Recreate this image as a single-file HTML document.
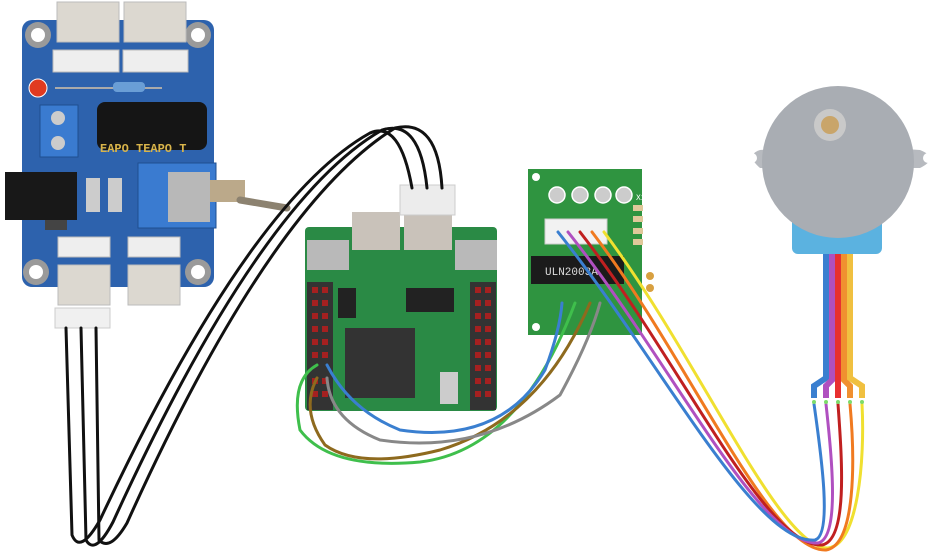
<!DOCTYPE html>
<html><head><meta charset="utf-8"><style>
html,body{margin:0;padding:0;background:#fff;width:936px;height:560px;overflow:hidden}
svg{display:block}
text{font-family:"Liberation Mono",monospace}
</style></head><body>
<svg width="936" height="560" viewBox="0 0 936 560" xmlns="http://www.w3.org/2000/svg">
<!-- ===== Blue power board ===== -->
<rect x="22" y="20" width="192" height="267" rx="10" fill="#2d62ad"/>
<g fill="#9a9a9a"><circle cx="38" cy="35" r="13"/><circle cx="198" cy="35" r="13"/><circle cx="36" cy="272" r="13"/><circle cx="198" cy="272" r="13"/></g>
<g fill="#fff"><circle cx="38" cy="35" r="7"/><circle cx="198" cy="35" r="7"/><circle cx="36" cy="272" r="7"/><circle cx="198" cy="272" r="7"/></g>
<rect x="57" y="2" width="62" height="40" fill="#dcd8d0" stroke="#bbb"/>
<rect x="124" y="2" width="62" height="40" fill="#dcd8d0" stroke="#bbb"/>
<rect x="53" y="50" width="66" height="22" fill="#eee" stroke="#bbb"/>
<rect x="123" y="50" width="65" height="22" fill="#eee" stroke="#bbb"/>
<circle cx="38" cy="88" r="9" fill="#e03a20" stroke="#fff"/>
<line x1="55" y1="88" x2="162" y2="88" stroke="#aaa" stroke-width="2"/>
<rect x="113" y="82" width="32" height="10" rx="4" fill="#6a9ed6"/>
<rect x="40" y="105" width="38" height="52" fill="#3a7bd0" stroke="#1f4f90"/>
<circle cx="58" cy="118" r="7" fill="#ccc"/><circle cx="58" cy="143" r="7" fill="#ccc"/>
<rect x="97" y="102" width="110" height="48" rx="8" fill="#151515"/>
<text x="100" y="152" font-size="12" fill="#d9b44a" font-weight="bold">EAPO  TEAPO  T</text>
<rect x="5" y="172" width="72" height="48" fill="#181818"/>
<rect x="45" y="220" width="22" height="10" fill="#444"/>
<rect x="86" y="178" width="14" height="34" fill="#ccc"/><rect x="108" y="178" width="14" height="34" fill="#ccc"/>
<rect x="138" y="163" width="78" height="65" fill="#3a7bd0" stroke="#1f4f90"/>
<rect x="168" y="172" width="42" height="50" fill="#b8b8b8"/>
<rect x="210" y="180" width="35" height="22" fill="#bba98a"/>
<line x1="240" y1="200" x2="287" y2="208" stroke="#8c8270" stroke-width="7" stroke-linecap="round"/>
<rect x="58" y="237" width="52" height="20" fill="#eee" stroke="#bbb"/>
<rect x="128" y="237" width="52" height="20" fill="#eee" stroke="#bbb"/>
<rect x="58" y="265" width="52" height="40" fill="#dcd8d0" stroke="#bbb"/>
<rect x="128" y="265" width="52" height="40" fill="#dcd8d0" stroke="#bbb"/>
<rect x="55" y="308" width="55" height="20" fill="#f0f0f0" stroke="#ccc"/>
<!-- ===== Green main board ===== -->
<rect x="305" y="227" width="192" height="184" rx="4" fill="#2a8a45"/>
<rect x="352" y="212" width="48" height="38" fill="#c9c2ba"/>
<rect x="404" y="212" width="48" height="38" fill="#c9c2ba"/>
<rect x="400" y="185" width="55" height="30" fill="#ececec" stroke="#ccc"/>
<rect x="307" y="240" width="42" height="30" fill="#b9b9b9"/>
<rect x="455" y="240" width="42" height="30" fill="#b9b9b9"/>
<rect x="307" y="282" width="26" height="128" fill="#333"/>
<rect x="470" y="282" width="26" height="128" fill="#333"/>
<g fill="#a52020">
<rect x="312" y="287" width="6" height="6"/><rect x="322" y="287" width="6" height="6"/>
<rect x="312" y="300" width="6" height="6"/><rect x="322" y="300" width="6" height="6"/>
<rect x="312" y="313" width="6" height="6"/><rect x="322" y="313" width="6" height="6"/>
<rect x="312" y="326" width="6" height="6"/><rect x="322" y="326" width="6" height="6"/>
<rect x="312" y="339" width="6" height="6"/><rect x="322" y="339" width="6" height="6"/>
<rect x="312" y="352" width="6" height="6"/><rect x="322" y="352" width="6" height="6"/>
<rect x="312" y="378" width="6" height="6"/><rect x="322" y="378" width="6" height="6"/>
<rect x="312" y="391" width="6" height="6"/><rect x="322" y="391" width="6" height="6"/>
<rect x="475" y="287" width="6" height="6"/><rect x="485" y="287" width="6" height="6"/>
<rect x="475" y="300" width="6" height="6"/><rect x="485" y="300" width="6" height="6"/>
<rect x="475" y="313" width="6" height="6"/><rect x="485" y="313" width="6" height="6"/>
<rect x="475" y="326" width="6" height="6"/><rect x="485" y="326" width="6" height="6"/>
<rect x="475" y="339" width="6" height="6"/><rect x="485" y="339" width="6" height="6"/>
<rect x="475" y="352" width="6" height="6"/><rect x="485" y="352" width="6" height="6"/>
<rect x="475" y="365" width="6" height="6"/><rect x="485" y="365" width="6" height="6"/>
<rect x="475" y="378" width="6" height="6"/><rect x="485" y="378" width="6" height="6"/>
<rect x="475" y="391" width="6" height="6"/><rect x="485" y="391" width="6" height="6"/>
</g>
<rect x="338" y="288" width="18" height="30" fill="#222"/>
<rect x="406" y="288" width="48" height="24" fill="#222"/>
<rect x="345" y="328" width="70" height="70" fill="#333"/>
<rect x="440" y="372" width="18" height="32" fill="#ccc"/>
<!-- ===== ULN board ===== -->
<rect x="528" y="169" width="114" height="166" fill="#2f9440"/>
<circle cx="536" cy="177" r="4" fill="#fff"/><circle cx="536" cy="327" r="4" fill="#fff"/>
<g fill="#ccc" stroke="#fff" stroke-width="1.5"><circle cx="557" cy="195" r="8"/><circle cx="580" cy="195" r="8"/><circle cx="603" cy="195" r="8"/><circle cx="624" cy="195" r="8"/></g>
<rect x="545" y="219" width="62" height="25" fill="#f2f2f2" stroke="#ccc"/>
<g fill="#e0c89a"><rect x="633" y="205" width="10" height="6"/><rect x="633" y="216" width="10" height="6"/><rect x="633" y="228" width="10" height="6"/><rect x="633" y="239" width="10" height="6"/></g>
<rect x="531" y="256" width="93" height="28" fill="#1b1b1b"/>
<text x="545" y="275" font-size="11" fill="#ddd">ULN2003A</text>
<text x="636" y="200" font-size="8" fill="#fff">X1134</text>
<circle cx="650" cy="276" r="4" fill="#d8a040"/><circle cx="650" cy="288" r="4" fill="#d8a040"/>
<!-- ===== Motor ===== -->
<path d="M760 150 Q745 155 760 168 L790 168 L790 148 Z" fill="#b7babf"/>
<path d="M920 150 Q940 158 920 168 L890 168 L890 148 Z" fill="#b7babf"/>
<circle cx="752" cy="158" r="5" fill="#fff"/><circle cx="928" cy="158" r="5" fill="#fff"/>
<rect x="792" y="212" width="90" height="42" rx="6" fill="#5bb2e0"/>
<circle cx="838" cy="162" r="76" fill="#a9adb3"/>
<circle cx="830" cy="125" r="16" fill="#c9c9c9"/>
<circle cx="830" cy="125" r="9" fill="#c9a56a"/>
<!-- ribbon -->
<g fill="none" stroke-width="6">
<path d="M826 254 L826 378 L814 386 L814 398" stroke="#3a7fd0"/>
<path d="M832 254 L832 380 L826 386 L826 398" stroke="#b050c0"/>
<path d="M838 254 L838 398" stroke="#e83030"/>
<path d="M844 254 L844 380 L850 386 L850 398" stroke="#f09030"/>
<path d="M850 254 L850 378 L862 386 L862 398" stroke="#f0c040"/>
</g>
<!-- ===== Wires ===== -->
<g fill="none" stroke-width="3" stroke-linecap="round">
<path d="M66 328 L72 535 Q80 555 100 520 Q250 200 370 133 Q400 120 412 188" stroke="#111"/>
<path d="M81 328 L86 540 Q95 556 113 522 Q260 200 382 130 Q420 118 427 188" stroke="#111"/>
<path d="M96 328 L99 540 Q110 552 127 523 Q270 205 395 128 Q438 118 442 188" stroke="#111"/>
<path d="M317 365 Q290 380 300 430 Q330 470 420 462 Q520 450 575 303" stroke="#3fbf4c"/>
<path d="M317 378 Q300 410 325 445 Q360 470 440 450 Q540 420 590 303" stroke="#8e6a1e"/>
<path d="M327 378 Q330 420 380 440 Q480 455 560 395 Q590 340 600 303" stroke="#888"/>
<path d="M327 365 Q350 410 400 430 Q500 445 545 370 Q560 330 562 303" stroke="#3a7fd0"/>
<!-- ULN to motor -->
<path d="M604 232 C700 360 780 550 828 548 C858 545 865 460 862 404" stroke="#f0e030"/>
<path d="M592 232 C690 360 770 552 826 550 C856 545 855 460 850 404" stroke="#f07a20"/>
<path d="M580 232 C680 360 765 548 822 545 C848 540 842 460 838 404" stroke="#c02020"/>
<path d="M568 232 C670 360 760 545 818 543 C840 538 832 460 826 404" stroke="#b050c0"/>
<path d="M558 232 C660 360 755 545 815 540 C832 535 822 460 814 404" stroke="#3a7fd0"/>
</g>
<g fill="#7ddc6a"><circle cx="814" cy="402" r="2"/><circle cx="826" cy="402" r="2"/><circle cx="838" cy="402" r="2"/><circle cx="850" cy="402" r="2"/><circle cx="862" cy="402" r="2"/></g>
</svg>
</body></html>
